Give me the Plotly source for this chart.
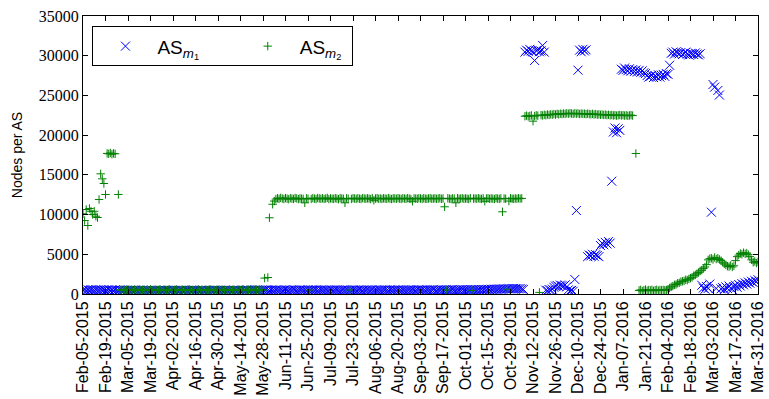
import pandas as pd
import plotly.graph_objects as go

# Daily samples starting on this date
start_date = "2015-02-05"
end_date = "2016-03-31"

# ---- AS_m1 (nodes per AS), daily values in segments ----
m1_feb_nov = [
    480, 520, 450, 510, 470, 530, 490, 460, 540, 500, 470, 520, 480, 510, 450, 490, 530, 470, 500, 460, 520, 480, 440, 510, 470,
    430, 470, 410, 460, 440, 480, 420, 450, 470, 400, 460, 430, 480, 440, 410, 470, 450, 420, 460, 430, 490, 440, 410, 460, 450,
    420, 460, 440, 480, 410, 450, 470, 430, 460, 420, 440, 480, 450, 410, 470, 440, 460, 420, 450, 480, 430, 460, 410, 440, 470,
    450, 420, 470, 440, 460, 410, 450, 480, 430, 460, 440, 470, 420, 450, 460, 430, 480, 440, 410, 460, 450, 430, 470, 440, 460,
    480, 450, 500, 470, 440, 490, 460, 510, 470, 450, 500, 480, 460, 490, 520, 470, 450, 500, 480, 460, 510, 490, 470, 500, 460,
    490, 520, 480, 460, 500, 470, 510, 490, 460, 480, 520, 500, 470, 490, 460, 510, 480, 500, 470, 490, 520, 460, 480, 510, 490,
    470, 500, 480, 460, 510, 490, 470, 500, 520, 480, 460, 490, 510, 470, 500, 480, 460, 490, 520, 500, 470, 480, 510, 490, 460,
    500, 480, 510, 470, 490, 520, 460, 500, 480, 510, 490, 470, 500, 520, 480, 460, 510, 490, 470, 500, 480, 520, 490, 470, 510,
    490, 470, 500, 520, 480, 510, 490, 460, 500, 530, 480, 510, 490, 470, 520, 500, 480, 510, 540, 490, 470, 510, 500, 520, 480,
    510, 530, 490, 500, 520, 540, 500, 480, 520, 510, 530, 550, 500, 520, 540, 510, 530, 560, 520, 540, 510, 550, 530, 560, 540,
    570, 550, 590, 560, 600, 580, 620, 590, 610, 640, 600, 630, 660, 620, 650, 680, 640, 670, 700, 660, 690, 650, 680, 620, 580,
]
m1_nov_high = [30450, 30700, 30550, 30800, 30600, 30500, 29400, 30650, 30750, 30500, 30600, 31290, 30450]
m1_nov_low = [480, 420, 560, 500, 620, 850, 1000, 1080, 950, 1120, 1050, 980, 1150, 900, 520, 380, 450, 350, 1830]
m1_dec = [10510, 28180, 30700, 30500, 30800, 30600, 30750,
          4700, 4900, 4800, 5000, 4750, 4950, 4850, 4700,
          6100, 6400, 6200, 6500, 6300, 6600, 6400,
          14200, 20400, 20900, 20300, 20800, 20600]
m1_jan = [28300, 28150, 28450, 28250, 28100, 28350, 28050, 28250, 28000, 28200, 27950, 28150, 27900, 28100, 27850, 27750,
          27500, 27300, 27400, 27550, 27250, 27450, 27350, 27600, 27300, 27500, 27650, 27400, 27750, 27650, 28800]
m1_feb = [30300, 30450, 30200, 30500, 30350, 30250, 30400, 30150, 30300, 30450, 30200, 30100, 30300, 30250, 30150, 30350,
          30200, 30100, 30250]
m1_mar = [1100, 750, 600, 950, 700, 1250, 10300, 26380, 26040, 700, 25620, 25050,
          650, 800, 550, 900, 700, 1000, 750, 600, 950, 1100, 850, 1200, 1000, 1300, 1150, 1400, 1250, 1500, 1350, 1600,
          1450, 1700, 1550, 1800]

# ---- AS_m2 (nodes per AS), daily values in segments (None = no sample) ----
m2_feb = [10100, 9250, 10640, 8620, 10760, 10420, 10010, 10420, 9790, 9630,
          11900, 15130, 14500, 13910, 12530,
          17700, 17650, 17750, 17600, 17700, 17650, None, 12530]
m2_mar_may = [
    520, 480, 560, 450, 510, 590, 470, 530, 490, 560, 440, 520, 580, 470, 510, 550, 460, 530, 490, 570, 450, 510, 540, 480, 520,
    560, 470, 500, 540, 460, 530, 580, 490, 450, 520, 560, 480, 510, 470, 550, 500, 440, 530, 570, 480, 510, 460, 540, 500, 560,
    470, 520, 490, 550, 460, 510, 580, 480, 530, 450, 500, 560, 470, 520, 540, 490, 460, 510, 570, 480, 530, 500, 450, 540, 510,
    480, 560, 500, 470, 530, 490, 550, 460, 520, 580, 490, 510, 470, 540, 500,
]
m2_jun_ramp = [2000, None, 2080, 9600, None, 11300]
m2_jun_nov = [
    11700, 11950, 12050, 11980, 12100, 12020, 11960, 12080, 12000, 11940, 12060, 12010, 11970, 12090, 12030, 11950, 12040, 12000, 11980, 11480, 12050, 12000, 500, 11960, 12070,
    12010, 11960, 12080, 12030, 11990, 12050, 11970, 12020, 12100, 11950, 12040, 12000, 11980, 12060, 12010, 11940, 12070, 12020, 11990, 11480, 12050, 12000, 500, 11970, 12060,
    12020, 11980, 12050, 12000, 11960, 12070, 12030, 11990, 12040, 12010, 11950, 12080, 11800, 12020, 12060, 11990, 12030, 11970, 12050, 12010, 11980, 12070, 12000, 11960, 12040,
    12030, 11990, 12060, 12010, 11970, 12050, 12020, 11980, 12070, 12000, 11960, 11680, 12040, 12010, 11990, 12060, 12020, 11970, 12050, 12000, 11980, 12030, 12070, 11990, 12010,
    12040, 11980, 12020, 12060, 11990, 12030, 10980, 500, 12050, 12000, 11970, 12040, 12010, 11480, 12060, 11990, 12020, 12050, 11980, 12030, 12000, 11960, 12070, 450, 12010,
    12030, 11990, 12060, 12000, 11970, 12040, 11680, 12020, 12050, 11990, 12030, 12000, 11960, 12060, 12010, 11980, 12040, 10350, 12020, 11990, 600, 11700, 12050, 12000, 11980,
    12030, 11990, 12060, 12010, 12040, None,
]
m2_nov_jan = [
    22380, 22450, 22350, 22420, 22480, 21760, 22400, 22500, 22450, 200, 22520, 22480, 22560, 22500, 22600, 22540, 22620, 22580, 22650, 22600, 22680, 22620, 22700, 22650, 22720,
    22680, 22750, 22700, 22760, 22720, 22680, 22750, 22700, 22740, 22660, 22720, 22680, 22700, 22640, 22700, 22660, 22620, 22680, 22600, 22650, 22580, 22620, 22560, 22600, 22540,
    22580, 22520, 22560, 22500, 22540, 22480, 22520, 22460, 22500, 22540, 22480, 22520, 22460, 22500, 22440, 22480, 22520, 22460,
    None, 17690, None,
]
m2_jan_feb_low = [450, 520, 380, 480, 550, 420, 500, 460, 530, 400, 490, 540, 430, 510, 470, 520, 480]
m2_rise = [500, 600, 750, 900,
           1000, 1150, 1200, 1350, 1400, 1550,
           1600, 1650, 1800, 1750, 1900, 2000, 2100,
           2300, 2400, 2550, 2700, 2900, 3000,
           3200, 3400, 3700,
           4300, 4450, 4500, 4350, 4600, 4400, 4500, 4350,
           4200, 4000, 3800, 3650, 3500, 3450, 3600, 3400, 3550,
           4200, 4700, 4900, 5100, 5000, 5200, 5050, 5150, 4950,
           4700, 4300, 4000, 4100, 3900, 4050, 3950]

m1_values = m1_feb_nov + m1_nov_high + m1_nov_low + m1_dec + m1_jan + m1_feb + m1_mar
m2_values = m2_feb + m2_mar_may + m2_jun_ramp + m2_jun_nov + m2_nov_jan + m2_jan_feb_low + m2_rise

dates_m1 = pd.date_range(start_date, periods=len(m1_values), freq="D")
dates_m2 = pd.date_range(start_date, periods=len(m2_values), freq="D")

# Biweekly date ticks across the whole period
tick_dates = pd.date_range(start_date, end_date, freq="14D")
y_ticks = [0, 5000, 10000, 15000, 20000, 25000, 30000, 35000]

BLUE = "#0000ff"
GREEN = "#008000"

fig = go.Figure()
fig.add_trace(go.Scatter(
    x=dates_m1, y=m1_values, mode="markers",
    name="AS<sub><i>m</i><sub>1</sub></sub>" + "&nbsp;" * 6,
    marker=dict(symbol="x-thin", size=9, color=BLUE, line=dict(color=BLUE, width=1)),
))
fig.add_trace(go.Scatter(
    x=dates_m2, y=m2_values, mode="markers",
    name="AS<sub><i>m</i><sub>2</sub></sub>&nbsp;",
    marker=dict(symbol="cross-thin", size=6, color=GREEN, line=dict(color=GREEN, width=1)),
))

axis_common = dict(
    showline=True, linecolor="black", linewidth=1, mirror="ticks",
    ticks="inside", ticklen=5, tickwidth=1, tickcolor="black",
    showgrid=False, zeroline=False,
)

fig.update_xaxes(
    range=[start_date, end_date],
    tickmode="array", tickvals=tick_dates, ticktext=[d.strftime("%b-%d-%Y") for d in tick_dates],
    tickangle=-90, ticklabeloverflow="allow",
    tickfont=dict(family="Liberation Sans", size=16, color="black"),
    **axis_common,
)
fig.update_yaxes(
    range=[0, 35000],
    tickmode="array", tickvals=y_ticks, ticktext=[str(v) for v in y_ticks],
    tickfont=dict(family="Liberation Serif", size=16, color="black"),
    title=dict(text="Nodes per AS", font=dict(family="Liberation Sans", size=14, color="black"), standoff=12),
    **axis_common,
)

fig.update_layout(
    width=769, height=399,
    margin=dict(l=83, r=3, t=16, b=105),
    paper_bgcolor="white", plot_bgcolor="white",
    showlegend=True,
    legend=dict(
        orientation="h", x=0.014, y=0.963, xanchor="left", yanchor="top",
        bordercolor="black", borderwidth=1, bgcolor="white",
        font=dict(family="Liberation Sans", size=19, color="black"),
        itemwidth=54,
    ),
)

fig.write_html("out.html")
